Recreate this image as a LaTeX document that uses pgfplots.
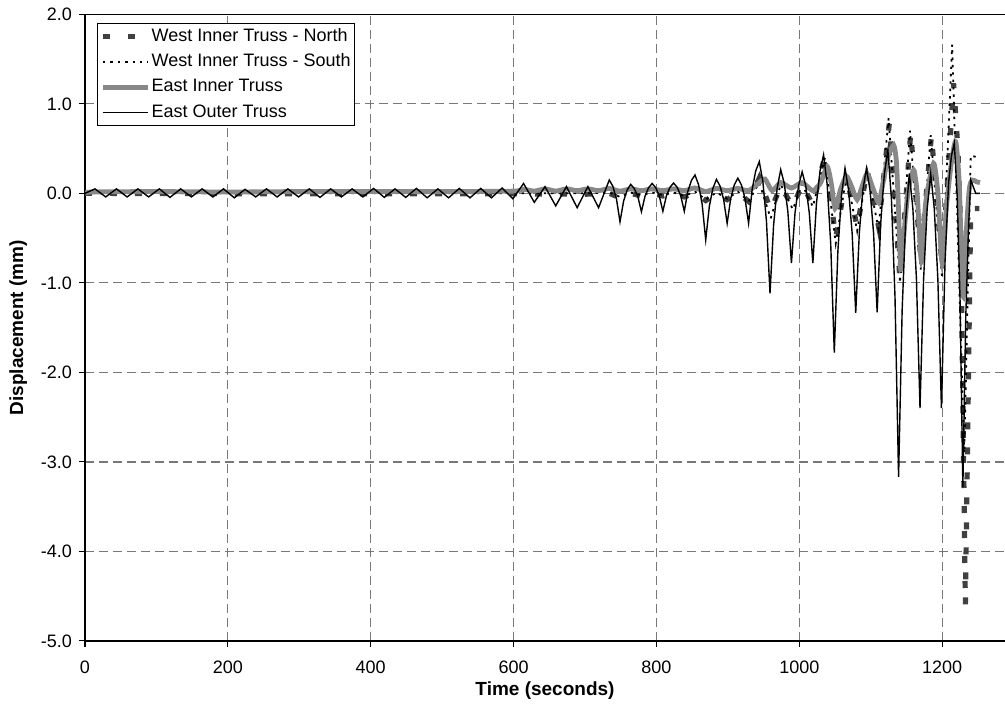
\documentclass[border=0pt]{standalone}
\usepackage{fontspec}
\setmainfont{Liberation Sans}
\usepackage{pgfplots}
\usepackage{pgfplotstable}
\pgfplotsset{compat=1.18}
\definecolor{northc}{RGB}{64,64,64}
\definecolor{innerc}{RGB}{136,136,136}
\definecolor{gridc}{RGB}{120,120,120}

\pgfplotstableread{
t v
0 0.0
300 -0.005
600 -0.005
700 -0.01
734 0.0
749 -0.05
764 0.0
779 -0.03
794 0.0
809 -0.03
824 0.0
839 -0.04
854 0.01
869 -0.08
884 0.0
899 -0.07
914 0.01
929 -0.09
944 0.17
960 -0.19
974 0.08
991 -0.15
1004 0.1
1019 -0.13
1036 0.42
1051 -0.5
1066 0.2
1081 -0.38
1095 0.26
1111 -0.37
1126 0.78
1141 -0.97
1156 0.68
1170 -0.72
1185 0.65
1200 -0.82
1216 1.23
1222 0.5
1226 -0.4
1232.5 -4.6
1240 -0.17
1252 -0.17
}\north

\pgfplotstableread{
t v
0 0.0
300 0.0
600 0.0
700 0.0
734 0.01
749 -0.04
764 0.01
779 -0.02
794 0.01
809 -0.02
824 0.01
839 -0.03
854 0.02
869 -0.07
884 0.01
899 -0.06
914 0.02
929 -0.09
944 0.12
960 -0.28
974 0.1
991 -0.18
1004 0.1
1019 -0.15
1036 0.40
1051 -0.56
1066 0.2
1081 -0.42
1095 0.25
1111 -0.40
1125 0.84
1141 -1.0
1155 0.7
1170 -0.85
1184 0.65
1200 -0.95
1214 1.66
1231 -2.9
1240 0.42
1252 0.40
}\south

\pgfplotstableread{
t v
0 0.0
10 0.015
100 0.02
200 0.015
300 0.02
400 0.02
500 0.02
600 0.025
614 0.045
629 0.025
644 0.05
659 0.025
674 0.05
689 0.03
704 0.05
719 0.03
734 0.055
749 0.025
764 0.05
779 0.03
794 0.05
809 0.03
824 0.05
839 0.03
854 0.06
869 0.02
884 0.055
899 0.03
914 0.055
929 0.03
944 0.12
952 0.16
962 0.03
974 0.12
989 0.06
1004 0.12
1019 0.03
1030 0.12
1039 0.30
1045 0.1
1050 -0.17
1058 0.05
1066 0.19
1073 0.08
1081 -0.07
1088 0.08
1095 0.22
1103 0.06
1111 -0.10
1118 0.15
1124 0.40
1132 0.54
1136 0.35
1139 -0.2
1142 -0.85
1146 -0.5
1152 0.0
1160 0.26
1165 0.0
1171 -0.76
1177 -0.1
1188 0.335
1194 0.0
1200 -0.78
1206 -0.15
1213 0.35
1219 0.577
1224 0.1
1229 -1.15
1234 -0.4
1238 0.05
1242 0.149
1248 0.13
1253 0.12
}\inner

\pgfplotstableread{
t v
0 0.0
14 0.05
29 -0.04
44 0.05
59 -0.04
74 0.05
89 -0.04
104 0.05
119 -0.045
134 0.05
149 -0.04
164 0.05
179 -0.04
194 0.05
209 -0.05
224 0.045
239 -0.04
254 0.05
269 -0.04
284 0.05
299 -0.04
314 0.05
329 -0.045
344 0.05
359 -0.04
374 0.05
389 -0.04
404 0.055
419 -0.045
434 0.05
449 -0.045
464 0.055
479 -0.05
494 0.05
509 -0.05
524 0.055
539 -0.05
554 0.055
569 -0.05
584 0.06
599 -0.06
614 0.11
629 -0.10
644 0.074
659 -0.14
674 0.075
689 -0.16
704 0.075
719 -0.16
734 0.149
739 0.079
744 -0.061
749 -0.317
754 -0.088
759 0.037
764 0.10
769 0.054
774 -0.037
779 -0.205
784 -0.032
789 0.063
794 0.11
799 0.064
804 -0.03
809 -0.20
814 -0.027
819 0.068
824 0.115
829 0.068
834 -0.027
839 -0.20
844 0.023
849 0.144
854 0.205
859 0.096
864 -0.121
869 -0.52
874 -0.148
879 0.055
884 0.156
889 0.082
894 -0.065
899 -0.335
904 -0.057
909 0.094
914 0.17
919 0.094
924 -0.057
929 -0.335
934 0.044
939 0.251
944 0.354
949 0.133
954 -0.308
959 -1.117
964 -0.357
969 0.058
974 0.265
979 0.108
984 -0.205
989 -0.78
994 -0.219
999 0.087
1004 0.24
1009 0.087
1014 -0.219
1019 -0.78
1024 -0.114
1029 0.249
1034 0.43
1039 0.099
1044 -0.564
1049 -1.78
1054 -0.647
1059 -0.029
1064 0.28
1069 0.038
1074 -0.446
1079 -1.334
1084 -0.446
1089 0.038
1094 0.28
1099 0.039
1104 -0.445
1109 -1.33
1114 -0.332
1119 0.212
1124 0.484
1129 -0.063
1134 -1.158
1139 -3.166
1144 -1.302
1149 -0.285
1154 0.223
1159 -0.17
1164 -0.957
1169 -2.40
1174 -0.959
1179 -0.173
1184 0.22
1189 -0.173
1194 -0.959
1199 -2.40
1204 -0.772
1209 0.116
1213 0.42
1217 0.56
1221 -0.016
1225 -1.168
1229 -3.28
1233 -1.394
1237 -0.365
1240 0.149
1247 0.0
1253 0.0
}\outer

\begin{document}
\begin{tikzpicture}
\begin{axis}[
  name=ax,
  scale only axis, width=460pt, height=313.35pt,
  xmin=0, xmax=1288, ymin=-5, ymax=2,
  axis x line*=box, axis y line*=left,
  xtick={0,200,...,1200}, ytick={-5,-4,...,2},
  tick align=outside, tick pos=left, major tick length=3pt,
  tick style={black, line width=0.5pt},
  xmajorgrids, ymajorgrids,
  grid style={gridc, line width=0.6pt, dash pattern=on 4.5pt off 2.5pt},
  axis line style={black, line width=0.6pt},
  ticklabel style={font=\fontsize{9}{10}\selectfont},
  xticklabel style={yshift=-3.5pt},
  /pgf/number format/assume math mode=true,
  /pgf/number format/1000 sep={},
  yticklabel style={/pgf/number format/.cd, fixed, fixed zerofill, precision=1},
  xlabel={Time (seconds)}, ylabel={Displacement (mm)},
  xlabel style={yshift=3pt},
  label style={font=\fontsize{9.5}{11}\selectfont\bfseries},
  legend style={at={(0,1)}, anchor=north west, xshift=6.15pt, yshift=-4.5pt,
    draw=black, line width=0.5pt, fill=white, inner sep=1.3pt, row sep=2.25pt,
    font=\fontsize{9}{10}\selectfont, cells={anchor=west},
    nodes={inner sep=0.5pt, text height=7pt, text depth=2.4pt}},
  legend image code/.code={\draw[#1] (0pt,0pt) -- (22.5pt,0pt);},
]
\addplot[northc, line width=2.6pt, dash pattern=on 3.5pt off 9pt] table[x=t,y=v] {\north};
\addlegendentry{West Inner Truss - North}
\addplot[black, line width=0.9pt, dash pattern=on 1.2pt off 2.5pt] table[x=t,y=v] {\south};
\addlegendentry{West Inner Truss - South}
\addplot[innerc, line width=2.4pt, smooth, tension=0.4] table[x=t,y=v] {\inner};
\addlegendentry{East Inner Truss}
\addplot[black, line width=0.7pt] table[x=t,y=v] {\outer};
\addlegendentry{East Outer Truss}
\end{axis}
\pgfresetboundingbox
\path[use as bounding box] ([shift={(-42.5pt,-33pt)}]ax.south west) rectangle ([shift={(0pt,7.15pt)}]ax.north east);
\end{tikzpicture}
\end{document}
